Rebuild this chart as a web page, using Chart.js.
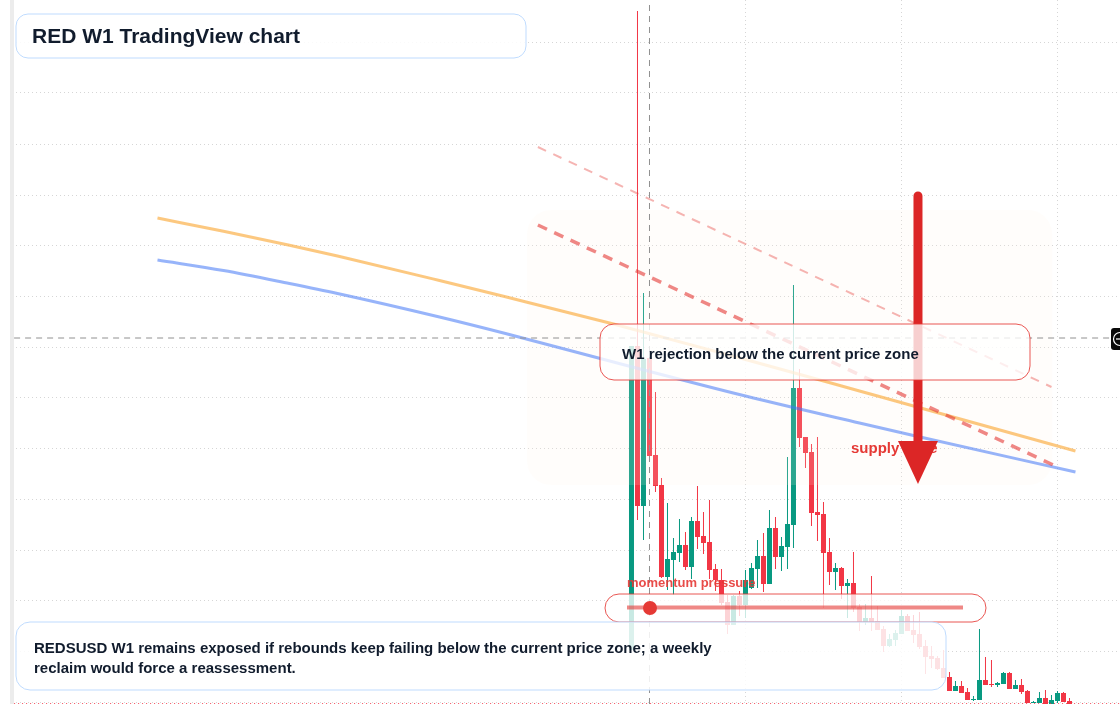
<!DOCTYPE html>
<html>
<head>
<meta charset="utf-8">
<title>RED W1 TradingView chart</title>
<script src="https://cdn.jsdelivr.net/npm/chart.js@4/dist/chart.umd.min.js"></script>
<style>
  html, body { margin: 0; padding: 0; background: #fff; overflow: hidden; }
  #wrap { position: relative; width: 1120px; height: 704px; }
  #trendChart { position: absolute; left: 0; top: 0; }
  #overlay { position: absolute; left: 0; top: 0; font-family: "Liberation Sans", Arial, sans-serif; font-weight: 700; }
</style>
</head>
<body>
<div id="wrap">
  <canvas id="trendChart" width="1120" height="704"></canvas>
  <svg id="overlay" width="1120" height="704" xmlns="http://www.w3.org/2000/svg">
    <rect x="0" y="0" width="10" height="704" fill="#fff"/>
    <rect x="10" y="0" width="4" height="704" fill="#ececec"/>

    <rect x="16" y="14" width="510" height="44" rx="12" fill="#fff" fill-opacity="0.88" stroke="#bfdbfe"/>
    <text x="32" y="43" font-size="21" fill="#111c2d">RED W1 TradingView chart</text>

    <rect x="600" y="324" width="430" height="56" rx="14" fill="#fff" fill-opacity="0.78" stroke="#e53935" stroke-opacity="0.85"/>
    <text x="622" y="359" font-size="15" fill="#111c2d">W1 rejection below the current price zone</text>

    <text x="627" y="587" font-size="13" fill="#e53935" fill-opacity="0.9">momentum pressure</text>
    <rect x="605" y="594" width="381" height="28" rx="14" fill="#fff" fill-opacity="0.78" stroke="#e53935" stroke-opacity="0.85"/>
    <line x1="627" y1="607.5" x2="963" y2="607.5" stroke="#e53935" stroke-opacity="0.6" stroke-width="4"/>
    <circle cx="650" cy="608" r="7" fill="#e53935"/>

    <rect x="16" y="622" width="930" height="68" rx="14" fill="#fff" fill-opacity="0.86" stroke="#bfdbfe"/>
    <text x="34" y="653" font-size="15" fill="#111c2d">REDSUSD W1 remains exposed if rebounds keep failing below the current price zone; a weekly</text>
    <text x="34" y="673" font-size="15" fill="#111c2d">reclaim would force a reassessment.</text>

    <rect x="1111" y="328" width="14" height="22" rx="3" fill="#0a0a0a"/>
    <circle cx="1120" cy="339" r="6.5" fill="none" stroke="#fff" stroke-width="1.2"/>
    <line x1="1116" y1="339" x2="1120" y2="339" stroke="#fff" stroke-width="1.2"/>
  </svg>
</div>
<script>
// weekly candles, oldest first
const opens = [0.54,3.58,1.98,3.46,2.49,2.19,1.27,1.44,1.51,1.59,1.37,1.83,1.68,1.62,1.35,1.24,1.02,0.79,1.08,0.99,
  1.16,1.35,1.48,1.20,1.76,1.47,1.57,1.79,3.16,2.67,2.52,1.92,1.90,1.52,1.32,1.36,1.18,1.21,0.97,0.82,
  0.86,0.83,0.75,0.58,0.64,0.70,0.88,0.74,0.70,0.58,0.48,0.46,0.36,0.27,0.13,0.18,0.12,0.04,0.04,0.24,
  0.20,0.19,0.20,0.31,0.15,0.19,0.13,0.01,0.01,0.06,0,0.03,0.11,0.03];
const closes = [3.58,1.98,3.45,2.48,2.18,1.27,1.45,1.52,1.59,1.37,1.83,1.67,1.61,1.34,1.24,1.01,0.79,1.08,0.99,1.24,
  1.36,1.48,1.20,1.76,1.47,1.58,1.80,3.16,2.66,2.51,1.91,1.89,1.51,1.32,1.36,1.18,1.21,0.96,0.82,0.86,
  0.82,0.74,0.58,0.65,0.71,0.88,0.73,0.69,0.57,0.47,0.45,0.35,0.26,0.13,0.18,0.11,0.04,0.05,0.24,0.19,
  0.19,0.21,0.31,0.15,0.19,0.12,0.01,0.02,0.06,0,0.04,0.11,0.02,0];
const highs = [3.58,6.93,4.11,3.46,3.12,2.26,2.01,1.66,1.85,1.72,1.87,2.18,1.92,2.04,1.40,1.35,1.09,1.09,1.13,1.34,
  1.41,1.64,1.71,1.94,1.87,1.67,2.47,4.19,3.35,2.67,2.60,2.67,2.02,1.66,1.41,1.37,1.25,1.52,1.00,1.00,
  1.28,0.98,0.78,0.70,0.74,0.94,0.90,0.89,0.92,0.64,0.58,0.48,0.54,0.32,0.23,0.23,0.16,0.08,0.75,0.47,
  0.44,0.22,0.32,0.32,0.24,0.25,0.14,0.03,0.12,0.14,0.09,0.13,0.12,0.06];
const lows = [0.54,1.84,1.64,2.42,2.12,1.26,1.14,1.09,1.42,1.34,1.25,1.55,1.50,1.25,1.13,0.99,0.70,0.79,0.88,0.86,
  1.15,1.16,1.12,1.20,1.35,1.33,1.35,1.56,2.57,2.36,1.78,1.63,0.96,1.19,1.14,1.05,0.86,0.92,0.73,0.79,
  0.73,0.74,0.52,0.57,0.58,0.70,0.73,0.61,0.55,0.30,0.36,0.34,0.26,0.13,0.13,0.11,0.04,0.03,0.04,0.19,
  0.17,0.17,0.20,0.15,0.15,0.10,0.01,0.01,0.01,0,0,0.01,0.02,0];

// moving averages
const maWeeks = [-79,-68,-57,-49,-32,-21,-3,19,38,47,74];
const maSlow = [4.86,4.727,4.588,4.48,4.235,4.072,3.80,3.445,3.13,2.98,2.53];
const maFast = [4.44,4.335,4.205,4.105,3.87,3.705,3.42,3.08,2.81,2.685,2.32];

// descending trend lines
const upperTrendWeeks = [-15.6,70];
const upperTrendPrices = [5.57,3.17];
const lowerTrendWeeks = [-15.6,70.3];
const lowerTrendPrices = [4.79,2.39];

// grid, crosshair and last price
const gridWeeks = [19,45,71];
const gridPrices = [0.02,0.53,1.04,1.54,2.05,2.56,3.07,3.57,4.08,4.59,5.09,5.60,6.11,6.62];
const crossWeek = 3;
const crossPrice = 3.66;
const lastPrice = 0.005;

// supply zone and the arrow pointing down out of it
const zoneWeeks = [-17.4,70.1];
const zonePrices = [2.19,4.94];
const arrowWeek = 47.75;
const arrowPrices = [5.08,2.59];
const arrowHeadBase = 2.63;
const arrowHeadTip = 2.20;
const arrowHeadHalfWeeks = 3.33;

const UP = '#089981';
const DOWN = '#f23645';
const candleColors = closes.map((c, i) => (c >= opens[i] ? UP : DOWN));

function toPoints(xs, ys) {
  return xs.map((x, i) => ({ x: x, y: ys[i] }));
}

const lineBase = { type: 'line', pointRadius: 0, fill: false, tension: 0 };

const overlays = {
  id: 'overlays',
  // the zone sits over the candles but under the lines
  afterDatasetDraw(chart, args) {
    if (args.index !== 1) return;
    const { ctx, scales: { x, y } } = chart;
    const left = x.getPixelForValue(zoneWeeks[0]);
    const right = x.getPixelForValue(zoneWeeks[1]);
    const top = y.getPixelForValue(zonePrices[1]);
    const bottom = y.getPixelForValue(zonePrices[0]);
    ctx.save();
    ctx.fillStyle = 'rgba(255,240,230,0.15)';
    ctx.beginPath();
    ctx.roundRect(left, top, right - left, bottom - top, 24);
    ctx.fill();
    ctx.restore();
  },
  afterDatasetsDraw(chart) {
    const { ctx, scales: { x, y } } = chart;
    ctx.save();
    ctx.fillStyle = '#e53935';
    ctx.font = 'bold 15px "Liberation Sans", Arial, sans-serif';
    ctx.fillText('supply zone', 851, 453);

    ctx.fillStyle = '#dc2626';
    ctx.beginPath();
    ctx.moveTo(x.getPixelForValue(arrowWeek - arrowHeadHalfWeeks), y.getPixelForValue(arrowHeadBase));
    ctx.lineTo(x.getPixelForValue(arrowWeek + arrowHeadHalfWeeks), y.getPixelForValue(arrowHeadBase));
    ctx.lineTo(x.getPixelForValue(arrowWeek), y.getPixelForValue(arrowHeadTip));
    ctx.closePath();
    ctx.fill();
    ctx.restore();
  }
};

new Chart(document.getElementById('trendChart'), {
  type: 'bar',
  data: {
    datasets: [
      {
        label: 'Wicks',
        data: lows.map((l, i) => ({ x: i, y: [l, highs[i]] })),
        backgroundColor: candleColors,
        barThickness: 1,
        inflateAmount: 0,
        grouped: false,
        order: 9
      },
      {
        label: 'Bodies',
        data: opens.map((o, i) => ({ x: i, y: [o, closes[i]] })),
        backgroundColor: candleColors,
        barThickness: 5,
        inflateAmount: 0,
        grouped: false,
        order: 8
      },
      { ...lineBase, label: 'Last price', data: toPoints([-102.9, 81.42], [lastPrice, lastPrice]),
        borderColor: 'rgba(242,54,69,0.85)', borderWidth: 1, borderDash: [1, 3], order: 7 },
      { ...lineBase, label: 'Slow MA', data: toPoints(maWeeks, maSlow), cubicInterpolationMode: 'monotone',
        borderColor: 'rgba(251,170,60,0.65)', borderWidth: 3, order: 6 },
      { ...lineBase, label: 'Fast MA', data: toPoints(maWeeks, maFast), cubicInterpolationMode: 'monotone',
        borderColor: 'rgba(66,118,245,0.55)', borderWidth: 3, order: 5 },
      { ...lineBase, label: 'Upper trend', data: toPoints(upperTrendWeeks, upperTrendPrices),
        borderColor: 'rgba(229,57,53,0.38)', borderWidth: 2, borderDash: [9, 8], order: 4 },
      { ...lineBase, label: 'Lower trend', data: toPoints(lowerTrendWeeks, lowerTrendPrices),
        borderColor: 'rgba(229,57,53,0.6)', borderWidth: 3.5, borderDash: [10, 8], order: 3 },
      { ...lineBase, label: 'Cross X', data: toPoints([crossWeek, crossWeek], [0, 7.02]),
        borderColor: '#909090', borderWidth: 1, borderDash: [6, 5], order: 2 },
      { ...lineBase, label: 'Cross Y', data: toPoints([-102.9, 79.75], [crossPrice, crossPrice]),
        borderColor: '#909090', borderWidth: 1, borderDash: [6, 5], order: 2 },
      { ...lineBase, label: 'Arrow', data: toPoints([arrowWeek, arrowWeek], arrowPrices),
        borderColor: '#dc2626', borderWidth: 9, borderCapStyle: 'round', order: 1 }
    ]
  },
  plugins: [overlays],
  options: {
    responsive: false,
    animation: false,
    layout: { padding: 0 },
    plugins: {
      legend: { display: false },
      tooltip: { enabled: false },
      title: { display: false }
    },
    scales: {
      x: {
        type: 'linear',
        offset: false,
        min: -105.25,
        max: 81.42,
        afterBuildTicks(axis) { axis.ticks = gridWeeks.map(v => ({ value: v })); },
        ticks: { display: false },
        grid: { color: '#d6d6d6', drawTicks: false, offset: false },
        border: { display: false, dash: [1, 3] }
      },
      y: {
        type: 'linear',
        min: 0,
        max: 7.04,
        afterBuildTicks(axis) { axis.ticks = gridPrices.map(v => ({ value: v })); },
        ticks: { display: false },
        grid: { color: '#d6d6d6', drawTicks: false },
        border: { display: false, dash: [1, 3] }
      }
    }
  }
});
</script>
</body>
</html>
